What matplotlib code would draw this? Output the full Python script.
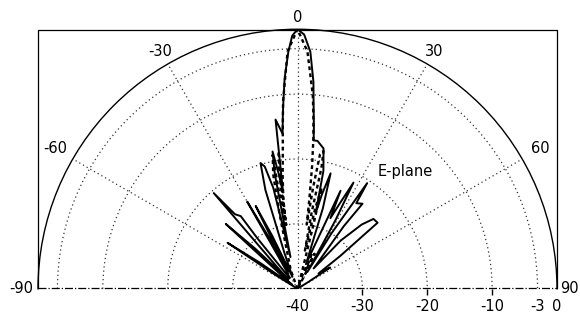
import numpy as np
import matplotlib
matplotlib.use('Agg')
import matplotlib.pyplot as plt
from matplotlib.lines import Line2D

# E-plane pattern, angle in degrees, level in dB
theta_solid = [-90, -62, -58, -56.7, -55.3, -53.5, -50, -47.9, -46.5, -45,
               -43, -41.2, -40, -38, -38.5, -36.5, -32, -30, -28.8, -28,
               -27.5, -26.8, -25.5, -23, -20, -18, -16.4, -15, -13.5, -12.5,
               -11.2, -10.3, -9.3, -8.5, -7.4, -5.5, -4.8, -4.3, -3.5, -2.2,
               -1.2, 0, 1.5, 3.1, 4.4, 4.9, 5.8, 6.2, 7.7, 10.5,
               12.4, 13.5, 14.5, 16, 17.5, 19, 21.5, 23.7, 25, 26.5,
               27.8, 29, 30.5, 31.5, 33.4, 34.5, 37.4, 36.5, 38.5, 41.9,
               45, 47.4, 50.5, 52.5, 54, 57, 58, 62, 90]
db_solid = [-40, -40, -36, -27.1, -33, -39, -37, -25.1, -31, -38,
            -35, -20.4, -25, -25.8, -30, -38, -37, -24.5, -32, -37,
            -33, -25.7, -31, -38, -34, -24, -19.8, -20.5, -24, -35,
            -22, -18.5, -22, -25, -13.7, -16, -13, -11, -7.5, -3.4,
            -1, 0, -0.8, -3.4, -8, -11, -15, -17, -17, -18,
            -21.4, -28, -25, -21.5, -27, -36, -33, -23.5, -28, -25,
            -21.5, -28, -37, -30, -20.5, -24, -23.5, -28, -36, -30,
            -26, -24.1, -24, -31.7, -36, -34, -38, -40, -40]

theta_dash = [-90, -25, -20, -15, -13.5, -12, -10.5, -10.8, -10, -8.8,
              -7.8, -9, -10, -9, -7.5, -6.2, -5.2, -4.4, -2.4, 0,
              2.4, 4.5, 5.2, 6, 6.8, 7.5, 8.2, 8.8, 9.5, 10.7,
              11.2, 10.5, 11, 12.5, 13.5, 14, 15, 18, 20, 22,
              24, 26, 28, 90]
db_dash = [-40, -40, -37, -33, -28, -22, -19, -24, -30, -24,
           -18.6, -22, -29, -26, -22.5, -19, -15, -11, -3.4, 0,
           -3.4, -10, -13, -16.5, -21, -26, -30, -24, -19, -18.4,
           -21, -28, -34, -27, -24, -30, -38, -40, -38, -34,
           -37, -34, -38, -40]

angle_ticks = [-60, -30, 0, 30, 60]
ring_ticks = [-30, -20, -10, -3]
r_labels = ['-40', '-30', '-20', '-10', '-3', '0']
r_label_vals = [-40, -30, -20, -10, -3, 0]

fig = plt.figure(figsize=(5.8, 3.2), dpi=100)
# the half wedge sits in the middle of a square axes box
ax = fig.add_axes([38/580, -98.5/320, 519/580, 519/320], projection='polar')
ax.set_theta_zero_location('N')
ax.set_theta_direction(-1)
ax.set_thetamin(-90)
ax.set_thetamax(90)
ax.set_rlim(-40, 0)

ax.set_thetagrids(angle_ticks, labels=[])
ax.set_rgrids(ring_ticks, labels=[])
ax.grid(True, linestyle=(0, (1, 2.4)), linewidth=0.9, color='0.2')
ax.spines['polar'].set_linewidth(1.0)
ax.spines['start'].set_color('none')
ax.spines['end'].set_color('none')
ax.tick_params(length=0)

ax.plot(np.deg2rad(theta_solid), db_solid, color='k', lw=1.4)
ax.plot(np.deg2rad(theta_dash), db_dash, color='k', lw=1.7,
        linestyle=(0, (1.6, 1.4)))

# angle labels round the outside
for a in angle_ticks:
    rr = {0: 1.8, 30: 2.2, 60: 3.2}[abs(a)]
    ax.text(np.deg2rad(a), rr, str(a), ha='center', va='center',
            fontsize=10.5, clip_on=False)
ax.annotate('-90', xy=(-np.pi/2, 0), xytext=(-5, 0), textcoords='offset pixels',
            ha='right', va='center', fontsize=10.5, annotation_clip=False)
ax.annotate('90', xy=(np.pi/2, 0), xytext=(3, 0), textcoords='offset pixels',
            ha='left', va='center', fontsize=10.5, annotation_clip=False)

# dB labels along the baseline
for v, s in zip(r_label_vals, r_labels):
    ax.annotate(s, xy=(np.pi/2, v), xytext=(0, -18), textcoords='offset pixels',
                ha='center', va='center', fontsize=10.5, annotation_clip=False)
ax.plot(np.deg2rad([90, 90, 90]), [-30, -20, -10], linestyle='none',
        marker=3, markersize=4, color='k', clip_on=False)

ax.text(np.deg2rad(42.5), -15.4, 'E-plane', ha='center', va='center',
        fontsize=10.5)

# frame round the half plot
fig.add_artist(Line2D([38/580, 38/580, 557/580, 557/580],
                      [32/320, 290/320, 290/320, 32/320],
                      transform=fig.transFigure, color='k', lw=0.9))
fig.add_artist(Line2D([38/580, 557/580], [32/320, 32/320],
                      transform=fig.transFigure, color='k', lw=0.9,
                      linestyle='-.'))

fig.savefig('out.png', dpi=100)
